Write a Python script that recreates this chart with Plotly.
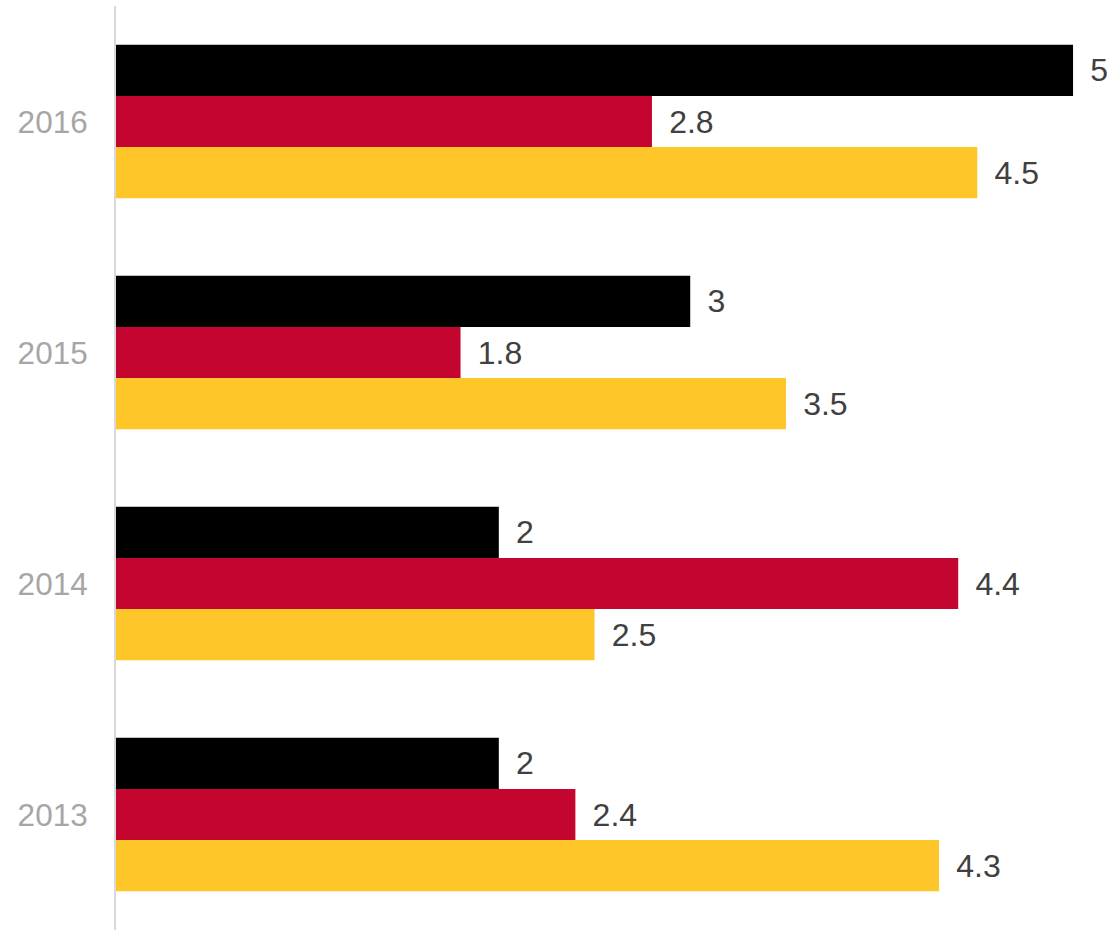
import plotly.graph_objects as go

years = ["2013", "2014", "2015", "2016"]
series_black = [2, 2, 3, 5]
series_red = [2.4, 4.4, 1.8, 2.8]
series_yellow = [4.3, 2.5, 3.5, 4.5]

fig = go.Figure()
# order: yellow (bottom of group), red, black (top of group)
for vals, color in [(series_yellow, "#ffc629"), (series_red, "#c4052f"), (series_black, "#000000")]:
    fig.add_trace(go.Bar(
        y=years, x=vals, orientation="h",
        marker=dict(color=color, line=dict(width=0)),
        text=vals, texttemplate="\u00a0\u2006%{x}", textposition="outside",
        textfont=dict(family="Liberation Sans, Arial", size=32, color="#404040"),
        cliponaxis=False, hoverinfo="skip",
    ))

fig.update_layout(
    width=1110, height=930,
    margin=dict(l=116, r=0, t=6, b=0),
    paper_bgcolor="white", plot_bgcolor="white",
    barmode="group", bargap=0.335, bargroupgap=0,
    showlegend=False,
    xaxis=dict(range=[0, 5.193], showgrid=False, zeroline=False, showline=False,
               showticklabels=False, ticks=""),
    yaxis=dict(type="category", showgrid=False, zeroline=False, showline=True,
               linecolor="#d9d9d9", linewidth=2,
               ticks="outside", ticklen=20, tickcolor="rgba(0,0,0,0)",
               tickfont=dict(family="Liberation Sans, Arial", size=31.5, color="#a6a6a6")),
)

fig.write_html("out.html", config={"displayModeBar": False},
               post_script="document.body.style.margin='0';document.body.style.overflow='hidden';")
